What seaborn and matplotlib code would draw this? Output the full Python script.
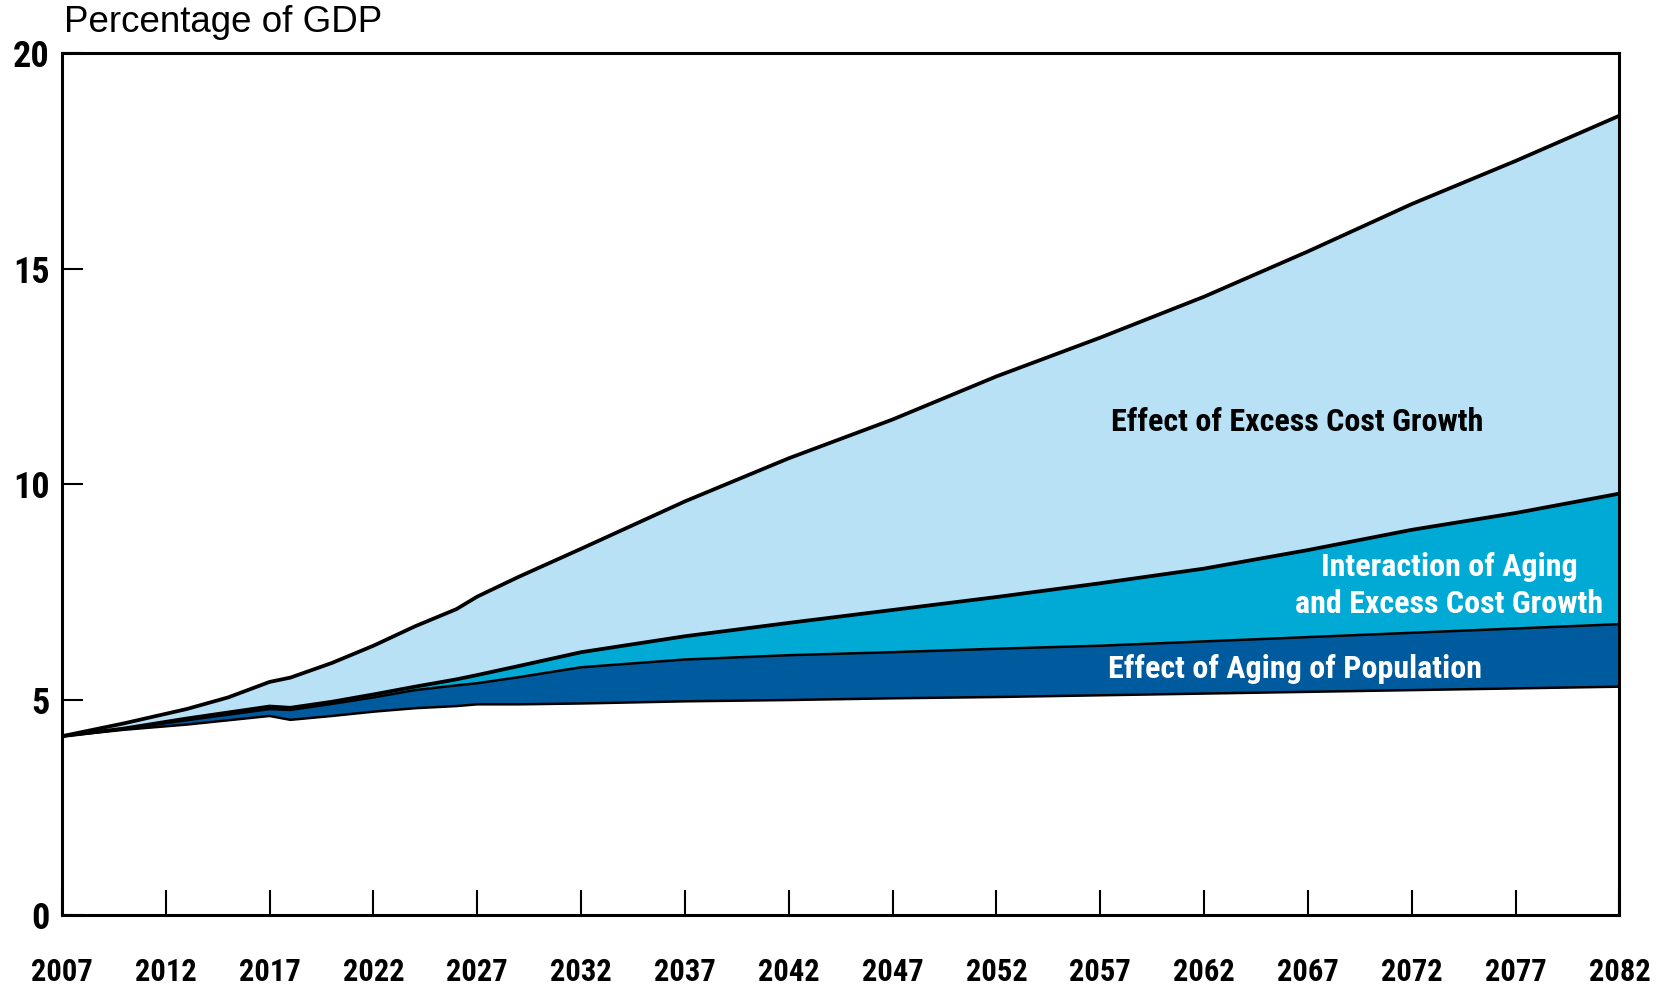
"""
Projected federal spending on Medicare and Medicaid, split into
aging of population / interaction / excess cost growth
"""
import numpy as np
import pandas as pd
import matplotlib
matplotlib.use('Agg')
import matplotlib.pyplot as plt
import seaborn as sns

# Data (percentage of GDP)
years = [2007, 2010, 2013, 2015, 2017, 2018, 2020, 2022, 2024, 2026, 2027, 2029,
         2032, 2037, 2042, 2047, 2052, 2057, 2062, 2067, 2072, 2077, 2082]
no_aging = [4.15, 4.30, 4.42, 4.52, 4.62, 4.53, 4.62, 4.72, 4.80, 4.85, 4.89, 4.89,
            4.91, 4.96, 4.99, 5.03, 5.06, 5.10, 5.14, 5.18, 5.22, 5.26, 5.30]
with_aging = [4.15, 4.32, 4.52, 4.65, 4.78, 4.76, 4.90, 5.05, 5.22, 5.33, 5.38, 5.52,
              5.75, 5.93, 6.03, 6.10, 6.18, 6.25, 6.35, 6.45, 6.55, 6.65, 6.75]
with_interaction = [4.15, 4.33, 4.56, 4.70, 4.84, 4.81, 4.95, 5.12, 5.30, 5.47, 5.57, 5.78,
                    6.10, 6.47, 6.78, 7.08, 7.38, 7.70, 8.04, 8.47, 8.94, 9.33, 9.78]
total = [4.15, 4.45, 4.78, 5.05, 5.41, 5.51, 5.85, 6.25, 6.70, 7.10, 7.39, 7.85,
         8.50, 9.60, 10.60, 11.50, 12.50, 13.40, 14.35, 15.40, 16.50, 17.50, 18.55]

x_ticks = list(range(2007, 2083, 5))
y_ticks = [0, 5, 10, 15, 20]

df = pd.DataFrame({'year': years, 'no_aging': no_aging, 'with_aging': with_aging,
                   'with_interaction': with_interaction, 'total': total})

sns.set_style('white')
plt.rcParams['font.family'] = ['Roboto Condensed', 'DejaVu Sans']
plt.rcParams['text.color'] = 'black'
plt.rcParams['xtick.color'] = 'black'
plt.rcParams['ytick.color'] = 'black'

light = '#B8E1F6'
mid = '#00AAD4'
dark = '#005A9E'

fig = plt.figure(figsize=(16.73, 9.85), dpi=100)
ax = fig.add_axes([0.037, 0.071, 0.931, 0.875])

ax.fill_between(df['year'], df['with_interaction'], df['total'], color=light, lw=0)
ax.fill_between(df['year'], df['with_aging'], df['with_interaction'], color=mid, lw=0)
ax.fill_between(df['year'], df['no_aging'], df['with_aging'], color=dark, lw=0)

# outlines of each layer
for col, w in [('no_aging', 1.8), ('with_aging', 1.8), ('with_interaction', 2.7), ('total', 2.7)]:
    sns.lineplot(data=df, x='year', y=col, ax=ax, color='black', lw=w)

ax.set_xlim(2007, 2082)
ax.set_ylim(0, 20)
ax.set_xticks(x_ticks)
ax.set_yticks(y_ticks)
ax.set_xlabel('')
ax.set_ylabel('')
ax.tick_params(axis='x', bottom=True, direction='in', length=18, width=1.5, pad=30,
               labelsize=22)
ax.tick_params(axis='y', left=True, direction='in', length=15, width=1.5, pad=9,
               labelsize=26)
for lab in ax.get_xticklabels() + ax.get_yticklabels():
    lab.set_fontweight('bold')

for s in ax.spines.values():
    s.set_visible(True)
    s.set_color('black')
    s.set_linewidth(2.2)

ax.text(2007.1, 20.3, 'Percentage of GDP', family=['Liberation Sans', 'DejaVu Sans'],
        fontsize=26.5, ha='left', va='bottom')

lab_kw = dict(fontsize=23, fontweight='bold', ha='center', va='center')
ax.text(2066.5, 11.45, 'Effect of Excess Cost Growth', color='black', **lab_kw)
ax.text(2073.8, 7.64, 'Interaction of Aging\nand Excess Cost Growth', color='white',
        linespacing=1.3, **lab_kw)
ax.text(2066.4, 5.72, 'Effect of Aging of Population', color='white', **lab_kw)

fig.savefig('out.png', dpi=100)
